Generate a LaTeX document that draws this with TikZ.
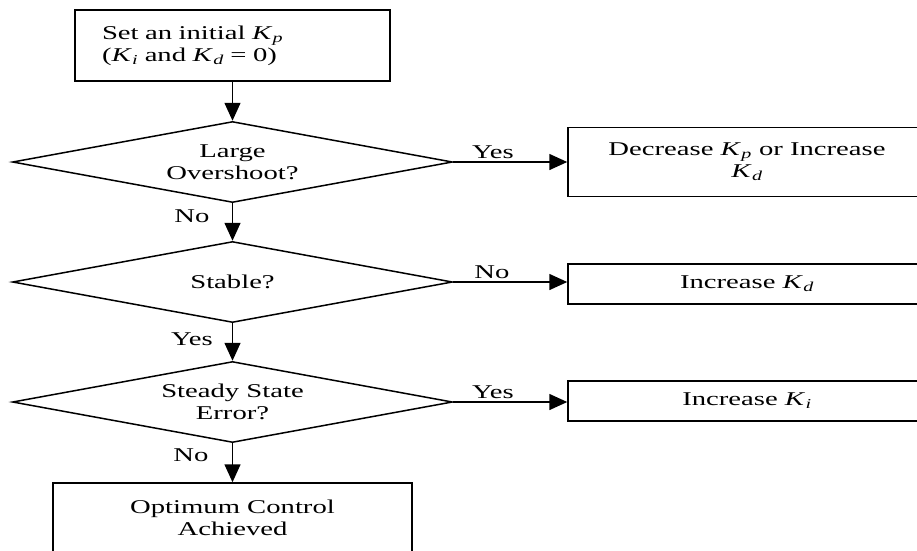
\documentclass[tikz,border=0pt]{standalone}
\usepackage{fontspec}
\setmainfont{Liberation Serif}[FakeStretch=1.47]
\usetikzlibrary{shapes.geometric,arrows.meta}
\newcommand{\gainK}[1]{\textit{K}\kern0.3pt\textsubscript{\textit{#1}}}

\begin{document}
\begin{tikzpicture}[
  x=1pt,
  y=-1pt,
  line width=1.5pt,
  every node/.style={
    font=\fontsize{19.5}{22}\selectfont,
  },
  process/.style={
    draw,
    rectangle,
    inner sep=0pt,
    align=center,
  },
  decision/.style={
    draw,
    diamond,
    aspect=5.43,
    inner sep=0pt,
    minimum width=440pt,
    minimum height=81pt,
    align=center,
  },
  answer/.style={
    anchor=base,
    inner sep=0pt,
  },
  flow/.style={
    -{Triangle[length=18pt,width=16pt]},
  },
]
\useasboundingbox (0,0) rectangle (917,550);
\clip (0,0) rectangle (917,550);
% main column
\node[process,minimum width=315pt,minimum height=71pt,text width=261pt,align=left] (start) at (232.5,45.5)
  {Set an initial \gainK{p}\\(\gainK{i} and \gainK{d} = 0)};
\node[decision] (overshoot) at (232.5,162) {Large\\Overshoot?};
\node[decision] (stable) at (232.5,282) {Stable?};
\node[decision] (steadyError) at (232.5,402) {Steady State\\Error?};
\node[process,minimum width=359pt,minimum height=70pt] (optimum) at (232.5,518) {Optimum Control\\Achieved};
% corrections
\node[process,minimum width=358pt,minimum height=69pt] (decreaseKp) at (747,162) {Decrease \gainK{p} or Increase\\\gainK{d}};
\node[process,minimum width=358pt,minimum height=40pt] (increaseKd) at (747,284) {Increase \gainK{d}};
\node[process,minimum width=358pt,minimum height=40pt] (increaseKi) at (747,401) {Increase \gainK{i}};
% answers
\node[answer] (yesOvershoot) at (493,158) {Yes};
\node[answer] (noStable) at (492,278) {No};
\node[answer] (yesSteady) at (493,398) {Yes};
\node[answer] (noOvershoot) at (192,222) {No};
\node[answer] (yesStable) at (192,345) {Yes};
\node[answer] (noSteady) at (191,461) {No};
% connectors
\draw[flow] (start) -- (overshoot);
\draw[flow] (overshoot) -- (stable);
\draw[flow] (stable) -- (steadyError);
\draw[flow] (steadyError) -- (optimum);
\draw[flow] (overshoot.east) -- (overshoot.east -| decreaseKp.west);
\draw[flow] (stable.east) -- (stable.east -| increaseKd.west);
\draw[flow] (steadyError.east) -- (steadyError.east -| increaseKi.west);
\end{tikzpicture}
\end{document}
